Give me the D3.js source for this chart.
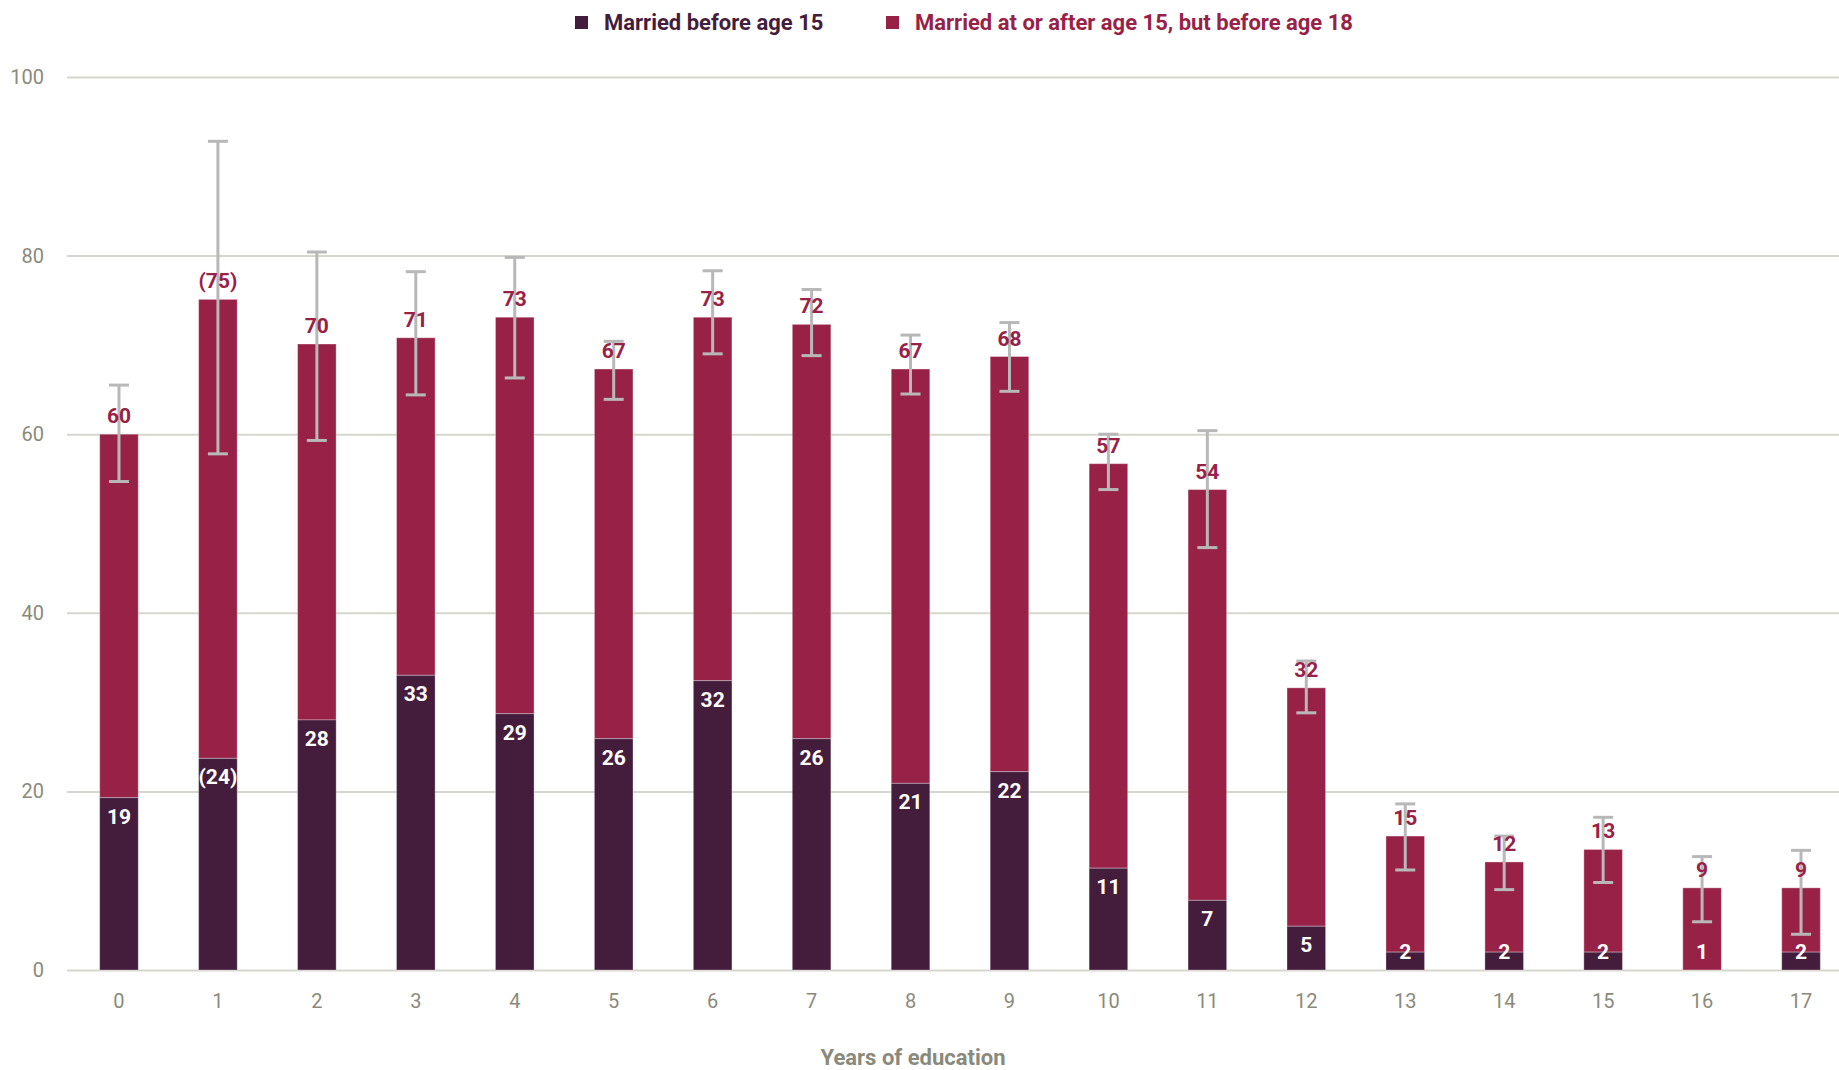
<!DOCTYPE html>
<html>
<head>
<meta charset="utf-8">
<script src="https://cdn.jsdelivr.net/npm/d3@7"></script>
<style>
  body { margin: 0; background: #fff; }
  svg { display: block; font-family: Roboto, "Liberation Sans", sans-serif; }
</style>
</head>
<body>
<svg width="1839" height="1070"></svg>
<script>
// years of education on the x axis
var years = ["0", "1", "2", "3", "4", "5", "6", "7", "8", "9", "10", "11", "12", "13", "14", "15", "16", "17"];

// % married before age 15
var before15 = [19.3, 23.7, 28.0, 33.0, 28.7, 25.9, 32.4, 25.9, 20.9, 22.2, 11.4, 7.8, 4.9, 2.0, 2.0, 2.0, 0, 2.0];
// % married before age 18 (total bar height)
var before18 = [60.0, 75.1, 70.1, 70.8, 73.1, 67.3, 73.1, 72.3, 67.3, 68.7, 56.7, 53.8, 31.6, 15.0, 12.1, 13.5, 9.2, 9.2];

// confidence interval of the before-18 total
var ciLow = [54.7, 57.8, 59.3, 64.4, 66.3, 63.9, 69.0, 68.8, 64.5, 64.8, 53.8, 47.3, 28.8, 11.2, 9.0, 9.8, 5.4, 4.0];
var ciHigh = [65.5, 92.8, 80.4, 78.2, 79.8, 70.4, 78.3, 76.2, 71.1, 72.5, 60.0, 60.4, 34.6, 18.6, 15.0, 17.1, 12.7, 13.4];

// printed labels (brackets = small sample)
var labels15 = ["19", "(24)", "28", "33", "29", "26", "32", "26", "21", "22", "11", "7", "5", "2", "2", "2", "1", "2"];
var labels18 = ["60", "(75)", "70", "71", "73", "67", "73", "72", "67", "68", "57", "54", "32", "15", "12", "13", "9", "9"];

var yTicks = [0, 20, 40, 60, 80, 100];
var seriesNames = ["Married before age 15", "Married at or after age 15, but before age 18"];

var darkColor = "#441c3c",
    redColor = "#982247",
    greyText = "#8a8a7c";

var svg = d3.select("svg");

var xScale = d3.scaleBand()
    .domain(years)
    .range([69.5, 1850.5])
    .paddingInner(0.61)
    .paddingOuter(0.305);

var yScale = d3.scaleLinear()
    .domain([0, 100])
    .range([970, 77]);

var rows = years.map(function (y, i) {
    return {
        year: y,
        low: before15[i],
        high: before18[i],
        ciLow: ciLow[i],
        ciHigh: ciHigh[i],
        lab15: labels15[i],
        lab18: labels18[i]
    };
});

// gridlines + y labels
var yAxis = d3.axisLeft(yScale)
    .tickValues(yTicks)
    .tickSize(-(1839 - 67))
    .tickPadding(23);

var gY = svg.append("g")
    .attr("transform", "translate(67,0)")
    .call(yAxis);
gY.select(".domain").remove();
gY.selectAll(".tick line")
    .attr("stroke", "#d6d6ce")
    .attr("stroke-width", 2);
gY.selectAll(".tick text")
    .attr("fill", greyText)
    .style("font-size", "20px")
    .style("font-family", "Roboto, sans-serif");

// x labels
var xAxis = d3.axisBottom(xScale).tickSize(0).tickPadding(24);
var gX = svg.append("g")
    .attr("transform", "translate(0," + yScale(0) + ")")
    .call(xAxis);
gX.select(".domain").remove();
gX.selectAll(".tick text")
    .attr("fill", greyText)
    .style("font-size", "20px")
    .style("font-family", "Roboto, sans-serif");

// bars
var bars = svg.append("g").selectAll(".col")
    .data(rows)
    .enter().append("g")
    .attr("class", "col");

bars.append("rect")
    .attr("x", function (d) { return xScale(d.year); })
    .attr("width", xScale.bandwidth())
    .attr("y", function (d) { return yScale(d.high); })
    .attr("height", function (d) { return yScale(d.low) - yScale(d.high); })
    .attr("fill", redColor)
    .attr("stroke", "rgba(255,255,255,0.35)")
    .attr("stroke-width", 1);

bars.filter(function (d) { return d.low > 0; })
    .append("rect")
    .attr("x", function (d) { return xScale(d.year); })
    .attr("width", xScale.bandwidth())
    .attr("y", function (d) { return yScale(d.low); })
    .attr("height", function (d) { return yScale(0) - yScale(d.low); })
    .attr("fill", darkColor)
    .attr("stroke", "rgba(255,255,255,0.3)")
    .attr("stroke-width", 1);

// error bars
var err = svg.append("g")
    .attr("stroke", "#b8b8b8")
    .attr("stroke-width", 3)
    .selectAll(".err")
    .data(rows)
    .enter().append("g")
    .attr("transform", function (d) {
        return "translate(" + (xScale(d.year) + xScale.bandwidth() / 2) + ",0)";
    });

err.append("line")
    .attr("y1", function (d) { return yScale(d.ciLow); })
    .attr("y2", function (d) { return yScale(d.ciHigh); });
err.append("line")
    .attr("x1", -10).attr("x2", 10)
    .attr("y1", function (d) { return yScale(d.ciLow); })
    .attr("y2", function (d) { return yScale(d.ciLow); });
err.append("line")
    .attr("x1", -10).attr("x2", 10)
    .attr("y1", function (d) { return yScale(d.ciHigh); })
    .attr("y2", function (d) { return yScale(d.ciHigh); });

// value labels
svg.append("g").selectAll("text")
    .data(rows)
    .enter().append("text")
    .attr("x", function (d) { return xScale(d.year) + xScale.bandwidth() / 2; })
    .attr("y", function (d) { return yScale(d.high) - 11; })
    .attr("text-anchor", "middle")
    .attr("fill", redColor)
    .style("font-size", "21px")
    .style("font-weight", "bold")
    .text(function (d) { return d.lab18; });

svg.append("g").selectAll("text")
    .data(rows)
    .enter().append("text")
    .attr("x", function (d) { return xScale(d.year) + xScale.bandwidth() / 2; })
    .attr("y", function (d) { return Math.min(yScale(d.low) + 26, yScale(0) - 11); })
    .attr("text-anchor", "middle")
    .attr("fill", "#fff")
    .style("font-size", "21px")
    .style("font-weight", "bold")
    .text(function (d) { return d.lab15; });

// legend
var legendX = [575, 886];
var legend = svg.append("g").selectAll(".legend-row")
    .data(seriesNames)
    .enter().append("g")
    .attr("class", "legend-row")
    .attr("transform", function (d, i) { return "translate(" + legendX[i] + ",16)"; });

legend.append("rect")
    .attr("width", 13)
    .attr("height", 13)
    .attr("fill", function (d, i) { return i ? redColor : darkColor; });

legend.append("text")
    .attr("x", 29)
    .attr("y", 14)
    .attr("fill", function (d, i) { return i ? redColor : darkColor; })
    .style("font-size", "22px")
    .style("font-weight", "bold")
    .text(function (d) { return d; });

// x title
svg.append("text")
    .attr("x", 913)
    .attr("y", 1065)
    .attr("text-anchor", "middle")
    .attr("fill", greyText)
    .style("font-size", "22px")
    .style("font-weight", "bold")
    .text("Years of education");
</script>
</body>
</html>
